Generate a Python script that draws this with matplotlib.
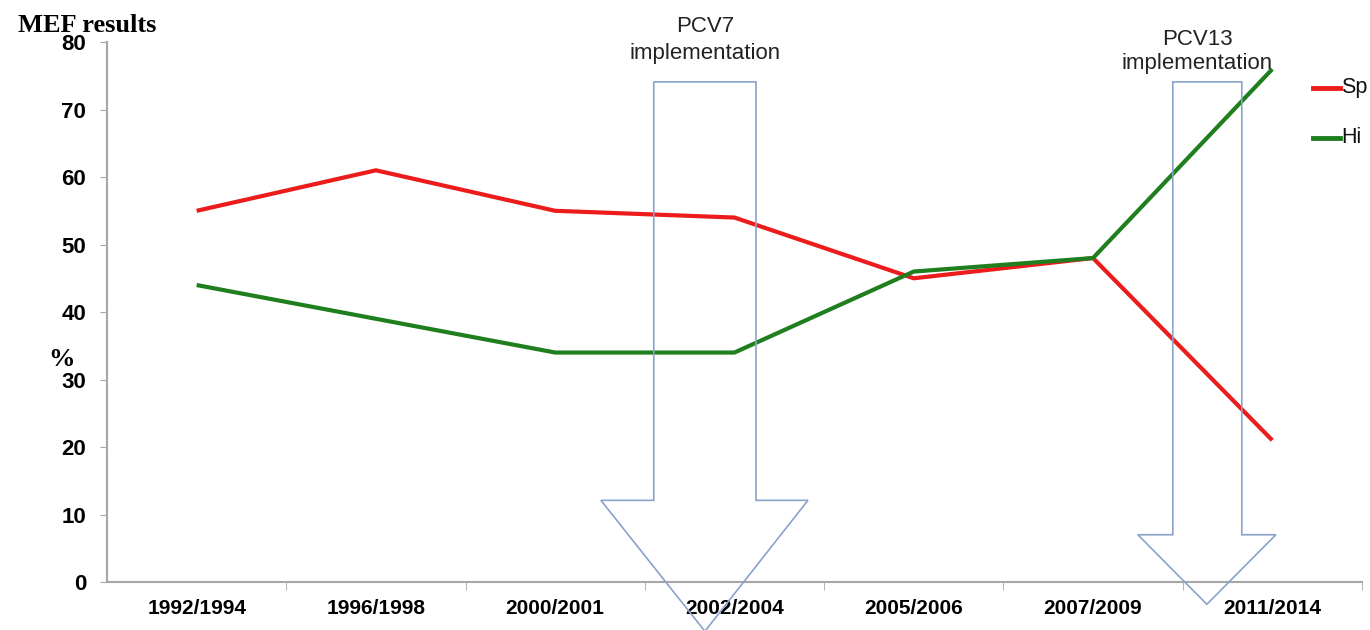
import matplotlib.pyplot as plt
from matplotlib.patches import Polygon
from matplotlib.lines import Line2D

periods = ["1992/1994", "1996/1998", "2000/2001", "2002/2004",
           "2005/2006", "2007/2009", "2011/2014"]
sp = [55, 61, 55, 54, 45, 48, 21]
hi = [44, 39, 34, 34, 46, 48, 76]
series_names = ["Sp", "Hi"]
y_ticks = [0, 10, 20, 30, 40, 50, 60, 70, 80]

RED = "#ec1c1c"
GREEN = "#1f7f1f"
ARROW = "#8aa3c8"
GRAY = "#a6a6a6"
tick_font = ["Liberation Sans Narrow", "Liberation Sans", "DejaVu Sans"]
label_font = ["Liberation Sans", "DejaVu Sans"]
serif_font = ["Liberation Serif", "DejaVu Serif"]

fig = plt.figure(figsize=(13.7, 6.3), dpi=100)
ax = fig.add_axes([0.0781, 0.0762, 0.916, 0.857])

x = list(range(len(periods)))
ax.plot(x, sp, color=RED, lw=3, solid_capstyle="butt", zorder=3)
ax.plot(x, hi, color=GREEN, lw=3, solid_capstyle="butt", zorder=3)

ax.set_xlim(-0.5, len(periods) - 0.5)
ax.set_ylim(0, 80)
ax.set_yticks(y_ticks)
ax.set_yticklabels([str(v) for v in y_ticks], family=tick_font,
                   fontweight="bold", fontsize=16)
ax.set_xticks(x)
ax.set_xticklabels(periods, family=tick_font, fontweight="bold", fontsize=15)
ax.tick_params(axis="x", length=0, pad=12)
ax.set_xticks([i + 0.5 for i in range(len(periods))], minor=True)
ax.tick_params(axis="x", which="minor", length=6, color=GRAY, direction="out")
ax.tick_params(axis="y", length=5, color=GRAY, pad=10)

for side in ("top", "right"):
    ax.spines[side].set_visible(False)
for side in ("left", "bottom"):
    ax.spines[side].set_color(GRAY)
    ax.spines[side].set_linewidth(1.5)


def block_arrow(x0, x1, hx0, hx1, tip_x, top, neck, tip_y):
    pts = [(x0, top), (x1, top), (x1, neck), (hx1, neck), (tip_x, tip_y),
           (hx0, neck), (x0, neck)]
    ax.add_patch(Polygon(pts, closed=True, fill=False, edgecolor=ARROW,
                         lw=1.2, clip_on=False, zorder=4))


# vaccine introduction arrows
block_arrow(2.55, 3.12, 2.255, 3.41, 2.835, 74.1, 12.1, -7.3)
block_arrow(5.445, 5.83, 5.25, 6.02, 5.635, 74.1, 7.0, -3.3)

ax.text(2.835, 76.8, "PCV7\nimplementation", ha="center", va="bottom",
        family=label_font, fontsize=16, linespacing=1.35, color="#222222")
ax.text(5.58, 75.3, "PCV13\nimplementation", ha="center", va="bottom",
        family=label_font, fontsize=16, linespacing=1.2, color="#222222")

# legend at the right edge
for name, color, yv in zip(series_names, [RED, GREEN], [73.2, 65.8]):
    ax.add_line(Line2D([6.226, 6.38], [yv, yv], color=color, lw=3.5,
                       clip_on=False))
    ax.text(6.385, yv, name, ha="left", va="center", family=label_font,
            fontsize=15.5, color="#111111", clip_on=False)

fig.text(0.013, 0.96, "MEF results", family=serif_font, fontweight="bold",
         fontsize=19, ha="left", va="center")
fig.text(0.045, 0.43, "%", family=serif_font, fontweight="bold",
         fontsize=19, ha="center", va="center")

fig.savefig("out.png", dpi=100)
